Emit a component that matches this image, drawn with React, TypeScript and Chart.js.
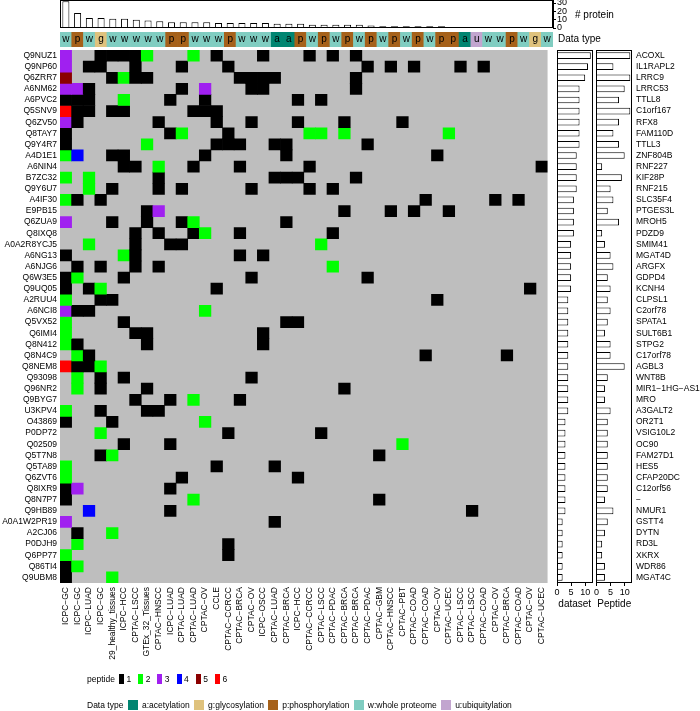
import React, { useEffect, useRef } from 'react';
import { Chart, registerables } from 'chart.js';

Chart.register(...registerables);

const FONT = "'Liberation Sans', Arial, Helvetica, sans-serif";

// ---- data ----
const columnLabels = [
  'ICPC−GC', 'ICPC−GC', 'ICPC−LUAD', 'ICPC−GC', '29_healthy_tissues', 'ICPC−HCC', 'CPTAC−LSCC',
  'GTEx_32_Tissues', 'CPTAC−HNSCC', 'ICPC−LUAD', 'CPTAC−LUAD', 'CPTAC−LUAD', 'CPTAC−OV', 'CCLE',
  'CPTAC−CCRCC', 'CPTAC−BRCA', 'CPTAC−OV', 'ICPC−OSCC', 'CPTAC−LUAD', 'CPTAC−BRCA', 'ICPC−HCC',
  'CPTAC−CCRCC', 'CPTAC−LSCC', 'CPTAC−PDAC', 'CPTAC−BRCA', 'CPTAC−BRCA', 'CPTAC−PDAC', 'CPTAC−GBM',
  'CPTAC−HNSCC', 'CPTAC−PBT', 'CPTAC−COAD', 'CPTAC−COAD', 'CPTAC−OV', 'CPTAC−UCEC', 'CPTAC−LSCC',
  'CPTAC−LSCC', 'CPTAC−COAD', 'CPTAC−OV', 'CPTAC−BRCA', 'CPTAC−COAD', 'CPTAC−OV', 'CPTAC−UCEC',
];

const dataTypes = 'wpwgw wwwwp pwwwp wwwaa pwpwp wpwpw pwppa uwwpw gw'.replace(/ /g, '').split('');

const proteinCounts = [32, 18, 12, 12, 11, 11, 10, 9, 8, 7, 7, 7, 7, 6, 6, 6, 6, 6, 5, 5, 5, 4, 4, 4, 4, 4, 3, 2, 2, 2, 2, 2, 2, 1, 1, 1, 1, 1, 1, 1, 1, 1];

const rowLabels = [
  'Q9NUZ1', 'Q9NP60', 'Q6ZRR7', 'A6NM62', 'A6PVC2', 'Q5SNV9', 'Q6ZV50', 'Q8TAY7', 'Q9Y4R7', 'A4D1E1',
  'A6NIN4', 'B7ZC32', 'Q9Y6U7', 'A4IF30', 'E9PB15', 'Q6ZUA9', 'Q8IXQ8', 'A0A2R8YCJ5', 'A6NG13', 'A6NJG6',
  'Q6W3E5', 'Q9UQ05', 'A2RUU4', 'A6NCI8', 'Q5VX52', 'Q6IMI4', 'Q8N412', 'Q8N4C9', 'Q8NEM8', 'Q93098',
  'Q96NR2', 'Q9BYG7', 'U3KPV4', 'O43869', 'P0DP72', 'Q02509', 'Q5T7N8', 'Q5TA89', 'Q6ZVT6', 'Q8IXR9',
  'Q8N7P7', 'Q9HB89', 'A0A1W2PR19', 'A2CJ06', 'P0DJH9', 'Q6PP77', 'Q86TI4', 'Q9UBM8',
];

const geneLabels = [
  'ACOXL', 'IL1RAPL2', 'LRRC9', 'LRRC53', 'TTLL8', 'C1orf167', 'RFX8', 'FAM110D', 'TTLL3', 'ZNF804B',
  'RNF227', 'KIF28P', 'RNF215', 'SLC35F4', 'PTGES3L', 'MROH5', 'PDZD9', 'SMIM41', 'MGAT4D', 'ARGFX',
  'GDPD4', 'KCNH4', 'CLPSL1', 'C2orf78', 'SPATA1', 'SULT6B1', 'STPG2', 'C17orf78', 'AGBL3', 'WNT8B',
  'MIR1−1HG−AS1', 'MRO', 'A3GALT2', 'OR2T1', 'VSIG10L2', 'OC90', 'FAM27D1', 'HES5', 'CFAP20DC', 'C12orf56',
  '−', 'NMUR1', 'GSTT4', 'DYTN', 'RD3L', 'XKRX', 'WDR86', 'MGAT4C',
];

const datasetCounts = [12, 11, 10, 8, 8, 8, 8, 8, 8, 7, 7, 7, 7, 6, 6, 6, 6, 5, 5, 5, 5, 5, 4, 4, 4, 4, 4, 4, 4, 4, 4, 4, 4, 3, 3, 3, 3, 3, 3, 3, 3, 3, 2, 2, 2, 2, 2, 2];

const peptideCounts = [12, 6, 12, 10, 8, 12, 8, 6, 8, 10, 2, 9, 5, 6, 4, 8, 2, 3, 5, 6, 4, 5, 4, 5, 4, 3, 5, 5, 10, 4, 3, 3, 5, 4, 4, 4, 4, 4, 4, 4, 3, 6, 4, 3, 2, 2, 3, 3];

// peptide count per cell, one string per row, one digit per column (0 = none)
const cellRows = [
  '3001111200 0201000100 0101010000 0000000000 00',
  '3011001000 1000100000 0000001010 1000101000 00',
  '5000121100 0000011110 0000010000 0000000000 00',
  '3310000000 1030001100 0000010000 0000000000 00',
  '1110020001 0010000000 1010000000 0000000000 00',
  '6110110000 0111000000 0000000000 0000000000 00',
  '3100000010 0001001000 1000100001 0000000000 00',
  '1000000001 2000100000 0220200000 0002000000 00',
  '1000000200 0001110011 0000001000 0000000000 00',
  '2400110000 0010000001 0000000000 0010000000 00',
  '0000011020 0100010000 0100000000 0000000000 01',
  '2020000010 0000000011 1000010000 0000000000 00',
  '0020100010 1000001000 0101000000 0000000000 00',
  '2101000000 0000000000 0000000000 0100000101 00',
  '0000000130 0000000000 0000100010 1001000000 00',
  '3000100100 1200000001 0000000000 0000000000 00',
  '0000001010 0120010000 0001000000 0000000000 00',
  '0020001001 1000000000 0020000000 0000000000 00',
  '1000021000 0000010100 0000000000 0000000000 00',
  '0101001010 0000000000 0002000000 0000000000 00',
  '1200010000 0000001000 0000001000 0000000000 00',
  '1012000000 0001000000 0000000000 0000000000 10',
  '2001100000 0000000000 0000000000 0010000000 00',
  '3110000000 0020000000 0000000000 0000000000 00',
  '2000010000 0000000001 1000000000 0000000000 00',
  '2000001100 0000000100 0000000000 0000000000 00',
  '2100000100 0000000100 0000000000 0000000000 00',
  '0210000000 0000000000 0000000000 0100000010 00',
  '6112000000 0000000000 0000000000 0000000000 00',
  '0201010000 0000001000 0000000000 0000000000 00',
  '0201000100 0000000000 0000100000 0000000000 00',
  '0000001001 0200010000 0000000000 0000000000 00',
  '2001000110 0000000000 0000000000 0000000000 00',
  '1000100000 0020000000 0000000000 0000000000 00',
  '0002000000 0000100000 0010000000 0000000000 00',
  '0000010001 0000000000 0000000002 0000000000 00',
  '0001200000 0000000000 0000000100 0000000000 00',
  '2000000000 0001000010 0000000000 0000000000 00',
  '2000000000 1000000000 1000000000 0000000000 00',
  '1300000001 0000000000 0000000000 0000000000 00',
  '1000000000 0200000000 0000000100 0000000000 00',
  '0040000001 0000000000 0000000000 0000010000 00',
  '3000000000 0000000010 0000000000 0000000000 00',
  '0100200000 0000000000 0000000000 0000000000 00',
  '0200000000 0000100000 0000000000 0000000000 00',
  '2000000000 0000100000 0000000000 0000000000 00',
  '1200000000 0000000000 0000000000 0000000000 00',
  '1000200000 0000000000 0000000000 0000000000 00',
];

const peptideLevels = ['1', '2', '3', '4', '5', '6'];
const peptideColors = ['#000000', '#00FF00', '#A020F0', '#0000FF', '#8B0000', '#FF0000'];

const typeKeys = ['a', 'g', 'p', 'w', 'u'];
const typeNames = ['a:acetylation', 'g:glycosylation', 'p:phosphorylation', 'w:whole proteome', 'u:ubiquitylation'];
const typeColors = ['#018571', '#DFC27D', '#A6611A', '#80CDC1', '#C2A5CF'];

const sideTicks = [0, 5, 10];
const proteinTicks = [0, 10, 20, 30];

// ---- helpers ----
const LABEL_SIZE = 8.5;
const TICK_SIZE = 9;
const TITLE_SIZE = 10;
const font = (size: number) => ({ family: FONT, size });

const framePlugin = {
  id: 'frame',
  afterDraw(chart: any) {
    const { ctx, chartArea: a } = chart;
    ctx.save();
    ctx.strokeStyle = '#000';
    ctx.lineWidth = 1;
    const x0 = Math.floor(a.left) + 0.5;
    const y0 = Math.floor(a.top) + 0.5;
    const x1 = Math.ceil(a.right) - 0.5;
    const y1 = Math.ceil(a.bottom) - 0.5;
    ctx.strokeRect(x0, y0, x1 - x0, y1 - y0);
    ctx.restore();
  },
};

const greyBgPlugin = {
  id: 'greyBg',
  beforeDatasetsDraw(chart: any) {
    const { ctx, chartArea: a } = chart;
    ctx.save();
    ctx.fillStyle = '#BEBEBE';
    ctx.fillRect(a.left, a.top, a.right - a.left, a.bottom - a.top);
    ctx.restore();
  },
};

function ChartCanvas({ left, top, width, height, make }: any) {
  const ref = useRef<HTMLCanvasElement>(null);
  useEffect(() => {
    const chart = new Chart(ref.current as HTMLCanvasElement, make());
    return () => chart.destroy();
  }, []);
  return (
    <canvas
      ref={ref}
      width={width}
      height={height}
      style={{ position: 'absolute', left, top, width, height }}
    />
  );
}

const LEFT = 60;
const HM_RIGHT = 553;
const TOP = 50;
const BOTTOM = 583;

function makeTop() {
  return {
    type: 'bar',
    data: {
      labels: columnLabels,
      datasets: [{
        data: proteinCounts,
        backgroundColor: '#FFFFFF',
        borderColor: '#000000',
        borderWidth: 1,
        barPercentage: 0.6,
        categoryPercentage: 1,
      }],
    },
    options: {
      responsive: false,
      animation: false,
      layout: { padding: { top: 10.5, left: LEFT, bottom: 12, right: 0 } },
      plugins: { legend: { display: false }, tooltip: { enabled: false } },
      scales: {
        x: { display: false },
        y: {
          position: 'right',
          min: 0,
          max: 33,
          afterBuildTicks: (s: any) => { s.ticks = proteinTicks.map((v) => ({ value: v })); },
          grid: { display: true, drawOnChartArea: false, drawTicks: true, tickLength: 3, color: '#000' },
          border: { display: true, color: '#000' },
          ticks: { autoSkip: false, padding: 1, color: '#000', font: { family: FONT, size: TICK_SIZE, lineHeight: 1 } },
          afterFit: (s: any) => { s.width = 700 - HM_RIGHT; },
        },
      },
    },
    plugins: [framePlugin, {
      id: 'proteinTitle',
      afterDraw(chart: any) {
        const { ctx, chartArea: a } = chart;
        ctx.save();
        ctx.fillStyle = '#000';
        ctx.font = `${TITLE_SIZE}px ${FONT}`;
        ctx.textAlign = 'left';
        ctx.textBaseline = 'middle';
        ctx.fillText('# protein', a.right + 22, (a.top + a.bottom) / 2 + 1);
        ctx.restore();
      },
    }],
  };
}

function makeType() {
  return {
    type: 'bar',
    data: {
      labels: columnLabels,
      datasets: [{
        data: dataTypes.map(() => [0, 1]),
        backgroundColor: dataTypes.map((t) => typeColors[typeKeys.indexOf(t)]),
        borderWidth: 0,
        barPercentage: 1,
        categoryPercentage: 1,
      }],
    },
    options: {
      responsive: false,
      animation: false,
      layout: { padding: { top: 2, left: LEFT, bottom: 3, right: 700 - HM_RIGHT } },
      plugins: { legend: { display: false }, tooltip: { enabled: false } },
      scales: {
        x: { display: false },
        y: { display: false, min: 0, max: 1 },
      },
    },
    plugins: [{
      id: 'typeLetters',
      afterDatasetsDraw(chart: any) {
        const { ctx, chartArea: a } = chart;
        const meta = chart.getDatasetMeta(0);
        ctx.save();
        ctx.fillStyle = '#000';
        ctx.font = `${TITLE_SIZE}px ${FONT}`;
        ctx.textAlign = 'center';
        ctx.textBaseline = 'middle';
        const cy = (a.top + a.bottom) / 2;
        meta.data.forEach((el: any, i: number) => {
          ctx.fillText(dataTypes[i], el.x, cy);
        });
        ctx.textAlign = 'left';
        ctx.fillText('Data type', a.right + 5, cy);
        ctx.restore();
      },
    }],
  };
}

function makeHeatmap() {
  return {
    type: 'bar',
    data: {
      labels: columnLabels,
      datasets: cellRows.map((row, r) => {
        const vals = row.replace(/ /g, '').split('').map(Number);
        return {
          label: rowLabels[r],
          data: vals.map((v) => (v > 0 ? [r, r + 1] : null)),
          backgroundColor: vals.map((v) => (v > 0 ? peptideColors[v - 1] : 'rgba(0,0,0,0)')),
          borderWidth: 0,
          grouped: false,
          barPercentage: 1,
          categoryPercentage: 1,
        };
      }),
    },
    options: {
      responsive: false,
      animation: false,
      layout: { padding: { top: TOP, right: 3, left: 0, bottom: 0 } },
      plugins: { legend: { display: false }, tooltip: { enabled: false } },
      scales: {
        x: {
          type: 'category',
          grid: { display: false, drawTicks: false },
          border: { display: false },
          ticks: { autoSkip: false, maxRotation: 90, minRotation: 90, padding: 4, color: '#000', font: font(LABEL_SIZE) },
          afterFit: (s: any) => { s.height = 670 - BOTTOM; },
        },
        y: {
          type: 'linear',
          min: 0,
          max: rowLabels.length,
          reverse: true,
          grid: { display: false, drawTicks: false },
          border: { display: false },
          afterBuildTicks: (s: any) => { s.ticks = rowLabels.map((_, i) => ({ value: i + 0.5 })); },
          ticks: {
            autoSkip: false,
            padding: 3,
            color: '#000',
            font: font(LABEL_SIZE),
            callback: (v: any) => rowLabels[Math.floor(Number(v))],
          },
          afterFit: (s: any) => { s.width = LEFT; },
        },
      },
    },
    plugins: [greyBgPlugin],
  };
}

function makeSideBar(values: number[], title: string, withLabels: boolean, padLeft: number, padRight: number) {
  return {
    type: 'bar',
    data: {
      labels: withLabels ? geneLabels : rowLabels,
      datasets: [{
        data: values,
        backgroundColor: '#FFFFFF',
        borderColor: '#000000',
        borderWidth: 1,
        barPercentage: 0.6,
        categoryPercentage: 1,
      }],
    },
    options: {
      indexAxis: 'y',
      responsive: false,
      animation: false,
      layout: { padding: { top: TOP, left: padLeft, right: padRight, bottom: 0 } },
      plugins: { legend: { display: false }, tooltip: { enabled: false } },
      scales: {
        y: withLabels ? {
          position: 'right',
          grid: { display: false, drawTicks: false },
          border: { display: false },
          ticks: { autoSkip: false, padding: 4, color: '#000', font: font(LABEL_SIZE) },
          afterFit: (s: any) => { s.width = 68; },
        } : { display: false },
        x: {
          min: 0,
          max: 12.6,
          afterBuildTicks: (s: any) => { s.ticks = sideTicks.map((v) => ({ value: v })); },
          grid: { display: true, drawOnChartArea: false, drawTicks: true, tickLength: 3, color: '#000' },
          border: { display: false },
          ticks: { autoSkip: false, maxRotation: 0, padding: 1, color: '#000', font: font(TICK_SIZE) },
          title: { display: true, text: title, color: '#000', font: font(TITLE_SIZE), padding: 0 },
          afterFit: (s: any) => { s.height = 27; },
        },
      },
    },
    plugins: [framePlugin],
  };
}

const legendRow: any = {
  position: 'absolute',
  left: 87,
  height: 14,
  display: 'flex',
  alignItems: 'center',
  fontSize: LABEL_SIZE,
  lineHeight: '14px',
  whiteSpace: 'nowrap',
};

export default function App() {
  return (
    <div style={{ position: 'absolute', left: 0, top: 0, width: 700, height: 711, background: '#fff', fontFamily: FONT, color: '#000' }}>
      <ChartCanvas left={0} top={-10} width={700} height={50} make={makeTop} />
      <ChartCanvas left={0} top={30} width={700} height={20} make={makeType} />
      <ChartCanvas left={0} top={0} width={556} height={670} make={makeHeatmap} />
      <ChartCanvas left={553} top={0} width={42} height={610} make={() => makeSideBar(datasetCounts, 'dataset', false, 4, 2.5)} />
      <ChartCanvas left={593} top={0} width={107} height={610} make={() => makeSideBar(peptideCounts, 'Peptide', true, 3, 0)} />

      <div style={{ ...legendRow, top: 672 }}>
        <span style={{ marginRight: 4 }}>peptide</span>
        {peptideLevels.map((lv, i) => (
          <span key={lv} style={{ display: 'flex', alignItems: 'center', marginRight: 7 }}>
            <span style={{ display: 'inline-block', width: 5, height: 10, background: peptideColors[i], marginRight: 2.5 }} />
            {lv}
          </span>
        ))}
      </div>

      <div style={{ ...legendRow, top: 698 }}>
        <span style={{ marginRight: 4.6 }}>Data type</span>
        {typeKeys.map((k, i) => (
          <span key={k} style={{ display: 'flex', alignItems: 'center', marginRight: 4.4 }}>
            <span style={{ display: 'inline-block', width: 10, height: 10, background: typeColors[i], marginRight: 4 }} />
            {typeNames[i]}
          </span>
        ))}
      </div>
    </div>
  );
}
